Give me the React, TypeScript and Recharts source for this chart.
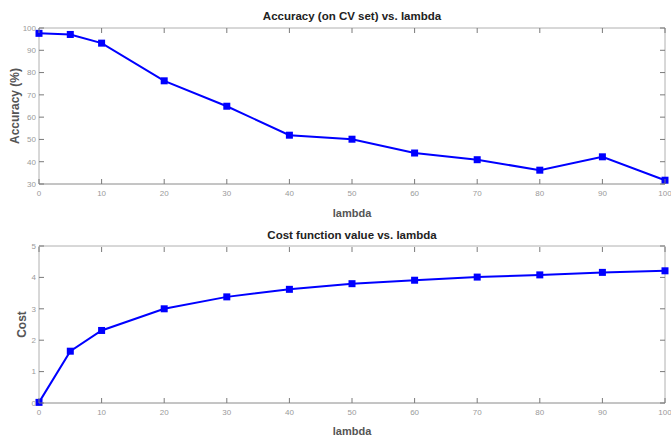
import { Label, Line, LineChart, XAxis, YAxis } from 'recharts'

const lambdas = [0, 5, 10, 20, 30, 40, 50, 60, 70, 80, 90, 100]
const accuracy = [97.6, 97.1, 93.2, 76.3, 64.9, 51.9, 50.1, 43.9, 40.9, 36.2, 42.2, 31.7]
const cost = [0.02, 1.65, 2.31, 3.0, 3.38, 3.62, 3.8, 3.91, 4.01, 4.08, 4.16, 4.21]

const xTicks = [0, 10, 20, 30, 40, 50, 60, 70, 80, 90, 100]
const accTicks = [30, 40, 50, 60, 70, 80, 90, 100]
const costTicks = [0, 1, 2, 3, 4, 5]

const accData = lambdas.map((l, i) => ({ lambda: l, value: accuracy[i] }))
const costData = lambdas.map((l, i) => ({ lambda: l, value: cost[i] }))

const FONT = '"Liberation Sans", Arial, sans-serif'
const BLUE = '#0000ff'
const AXIS_DARK = '#8a8a8a'
const AXIS_LIGHT = '#b0b0b0'
const TICK_COLOR = '#7a7a7a'
const TICK_LEN = 5
const X_GAP = 6
const Y_GAP = 3
const PLOT_W = 626
const PLOT_H = 156

// matlab style: tick labels outside, small tick marks inside the box on all four sides
function XTick(props: any) {
  const { x, y, payload } = props
  const bottom = y - X_GAP
  const top = bottom - PLOT_H
  return (
    <g>
      <line x1={x} x2={x} y1={bottom} y2={bottom - TICK_LEN} stroke={TICK_COLOR} />
      <line x1={x} x2={x} y1={top} y2={top + TICK_LEN} stroke={TICK_COLOR} />
      <text x={x} y={y} dy="0.71em" textAnchor="middle" fontSize={8} fill="#9a9a9a" fontFamily={FONT}>
        {payload.value}
      </text>
    </g>
  )
}

function YTick(props: any) {
  const { x, y, payload } = props
  const left = x + Y_GAP
  const right = left + PLOT_W
  return (
    <g>
      <line x1={left} x2={left + TICK_LEN} y1={y} y2={y} stroke={TICK_COLOR} />
      <line x1={right} x2={right - TICK_LEN} y1={y} y2={y} stroke={TICK_COLOR} />
      <text x={x} y={y} dy="0.355em" textAnchor="end" fontSize={8} fill="#9a9a9a" fontFamily={FONT}>
        {payload.value}
      </text>
    </g>
  )
}

function Square(props: any) {
  const { cx, cy } = props
  if (cx == null || cy == null) return null
  return <rect x={cx - 3.5} y={cy - 3.5} width={7} height={7} fill={BLUE} />
}

interface PanelProps {
  data: { lambda: number; value: number }[]
  domain: [number, number]
  yTicks: number[]
  yLabel: string
  yLabelDx: number
  bottom: number
}

function Panel({ data, domain, yTicks, yLabel, yLabelDx, bottom }: PanelProps) {
  return (
    <LineChart width={671} height={218} data={data} margin={{ top: 27, right: 5, left: 0, bottom: 0 }}>
      <XAxis
        xAxisId="b"
        dataKey="lambda"
        type="number"
        domain={[0, 100]}
        ticks={xTicks}
        height={bottom}
        tickSize={0}
        tickMargin={X_GAP}
        tick={<XTick />}
        tickLine={false}
        stroke={AXIS_DARK}
        interval={0}
      >
        <Label
          value="lambda"
          position="insideBottom"
          offset={1}
          style={{ fontSize: 11, fontWeight: 'bold', fill: '#555', fontFamily: FONT }}
        />
      </XAxis>
      <XAxis
        xAxisId="t"
        orientation="top"
        dataKey="lambda"
        type="number"
        domain={[0, 100]}
        height={1}
        tick={false}
        tickLine={false}
        stroke={AXIS_LIGHT}
      />
      <YAxis
        yAxisId="l"
        type="number"
        domain={domain}
        ticks={yTicks}
        width={39}
        tickSize={0}
        tickMargin={Y_GAP}
        tick={<YTick />}
        tickLine={false}
        stroke={AXIS_LIGHT}
        interval={0}
      >
        <Label
          value={yLabel}
          angle={-90}
          position="center"
          dx={yLabelDx}
          style={{ fontSize: 12, fontWeight: 'bold', fill: '#555', fontFamily: FONT }}
        />
      </YAxis>
      <YAxis
        yAxisId="r"
        orientation="right"
        type="number"
        domain={domain}
        width={1}
        tick={false}
        tickLine={false}
        stroke={AXIS_LIGHT}
      />
      <Line
        xAxisId="b"
        yAxisId="l"
        dataKey="value"
        stroke={BLUE}
        strokeWidth={2}
        dot={<Square />}
        activeDot={false}
        isAnimationActive={false}
      />
    </LineChart>
  )
}

const titleStyle = {
  position: 'absolute' as const,
  left: 39,
  width: 626,
  textAlign: 'center' as const,
  fontFamily: FONT,
  fontWeight: 'bold' as const,
  fontSize: 11.5,
  color: '#222',
  lineHeight: '14px',
}

export default function App() {
  return (
    <div style={{ position: 'absolute', left: 0, top: 0, width: 671, height: 436, background: '#fff', overflow: 'hidden' }}>
      <div style={{ position: 'absolute', left: 0, top: 0 }}>
        <Panel data={accData} domain={[30, 100]} yTicks={accTicks} yLabel="Accuracy (%)" yLabelDx={-4.5} bottom={34} />
      </div>
      <div style={{ position: 'absolute', left: 0, top: 218 }}>
        <Panel data={costData} domain={[0, 5]} yTicks={costTicks} yLabel="Cost" yLabelDx={2.5} bottom={33} />
      </div>
      <div style={{ ...titleStyle, top: 9 }}>Accuracy (on CV set) vs. lambda</div>
      <div style={{ ...titleStyle, top: 228 }}>Cost function value vs. lambda</div>
    </div>
  )
}
